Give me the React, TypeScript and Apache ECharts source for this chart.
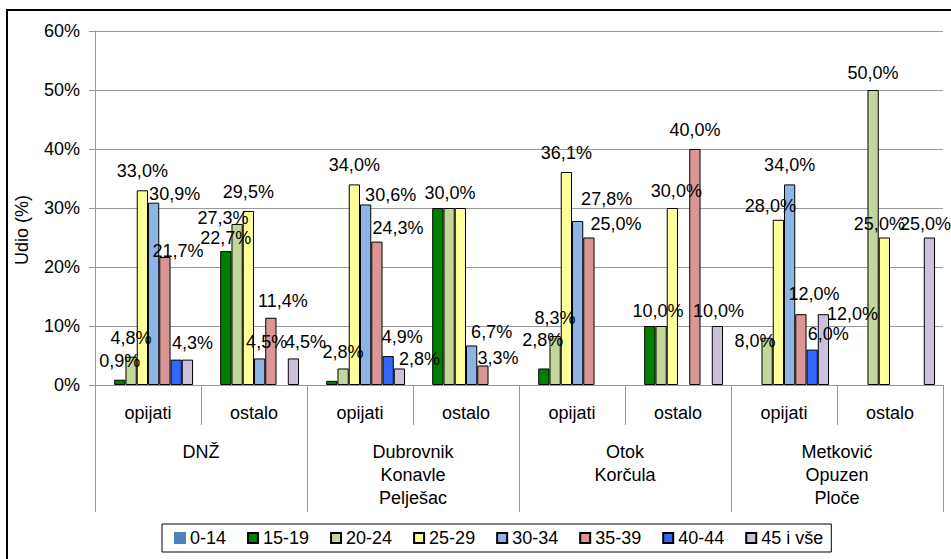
import React, { useEffect, useRef } from "react";
import * as echarts from "echarts";

// ---- data ----
const subCategories = ["opijati", "ostalo", "opijati", "ostalo", "opijati", "ostalo", "opijati", "ostalo"];
const regions = ["DNŽ", "Dubrovnik\nKonavle\nPelješac", "Otok\nKorčula", "Metković\nOpuzen\nPloče"];
const seriesNames = ["0-14", "15-19", "20-24", "25-29", "30-34", "35-39", "40-44", "45 i vše"];

const age0_14 = [null, null, null, null, null, null, null, null];
const age15_19 = [0.9, 22.7, 0.7, 30.0, 2.8, 10.0, null, null];
const age20_24 = [4.8, 27.3, 2.8, 30.0, 8.3, 10.0, 8.0, 50.0];
const age25_29 = [33.0, 29.5, 34.0, 30.0, 36.1, 30.0, 28.0, 25.0];
const age30_34 = [30.9, 4.5, 30.6, 6.7, 27.8, null, 34.0, null];
const age35_39 = [21.7, 11.4, 24.3, 3.3, 25.0, 40.0, 12.0, null];
const age40_44 = [4.3, null, 4.9, null, null, null, 6.0, null];
const age45plus = [4.3, 4.5, 2.8, null, null, 10.0, 12.0, 25.0];

const yMin = 0;
const yMax = 60;
const yInterval = 10;

// ---- style ----
const seriesValues = [age0_14, age15_19, age20_24, age25_29, age30_34, age35_39, age40_44, age45plus];
const colors = ["#4F81BD", "#008000", "#C3D69B", "#FFFF99", "#8EB4E3", "#D99694", "#3366FF", "#CCC0DA"];
const FONT = "'Liberation Sans', Arial, sans-serif";
const GRAY = "#999999";

// labels hidden where they coincide with another one (key: series-category)
const hiddenLabels = new Set(["1-2", "1-3", "3-3", "1-5", "6-0"]);
// label nudges [dx, dy] (key: series-category)
const labelNudge: Record<string, [number, number]> = {
  "4-0": [21, 10], "5-0": [13, 13], "7-0": [5, 2],
  "1-1": [0, 6], "2-1": [-14, 13], "4-1": [7, 3], "5-1": [12, 2], "7-1": [12, 3],
  "2-2": [0, 3], "4-2": [25, 10], "5-2": [21, 5], "6-2": [14, 0], "7-2": [20, 10],
  "2-3": [1, 4], "4-3": [20, 6], "5-3": [15, 11],
  "1-4": [-1, -9], "2-4": [0, 1], "4-4": [29, -3], "5-4": [27, 5],
  "2-5": [-3, 4], "3-5": [4, 2], "7-5": [1, 4],
  "2-6": [-12, 22], "3-6": [-8, 5], "5-6": [13, -1], "6-6": [16, 3], "7-6": [29, 19],
  "2-7": [0, 2], "3-7": [-5, 5], "7-7": [-4, 5],
};

const fmt = (v: number) => v.toFixed(1).replace(".", ",") + "%";

export default function App() {
  const ref = useRef<HTMLDivElement>(null);

  useEffect(() => {
    if (!ref.current) return;
    const chart = echarts.init(ref.current, undefined, { renderer: "svg" });

    const series = seriesNames.map((name, si) => ({
      name,
      type: "bar",
      xAxisIndex: 0,
      barGap: "0%",
      barCategoryGap: "15%",
      itemStyle: {
        color: colors[si],
        borderColor: si === 0 ? colors[si] : "#000000",
        borderWidth: 1,
      },
      label: {
        show: true,
        position: "top",
        distance: 10,
        color: "#000000",
        fontFamily: FONT,
        fontSize: 18,
        formatter: (p: any) => fmt(p.value as number),
      },
      data: seriesValues[si].map((v, ci) => {
        if (v === null) return null;
        const key = `${si}-${ci}`;
        const nudge = labelNudge[key] || [0, 0];
        return {
          value: v,
          label: { show: !hiddenLabels.has(key), offset: nudge },
        };
      }),
    }));

    chart.setOption({
      animation: false,
      backgroundColor: "#ffffff",
      textStyle: { fontFamily: FONT },
      grid: { left: 95, top: 31, right: 8, bottom: 174, containLabel: false },
      legend: {
        left: 162,
        top: 524,
        icon: "rect",
        itemWidth: 10,
        itemHeight: 10,
        itemGap: 21,
        padding: [5, 8, 5, 12],
        borderColor: "#000000",
        borderWidth: 1,
        textStyle: { fontFamily: FONT, fontSize: 18, color: "#000000" },
        data: seriesNames,
      },
      xAxis: [
        {
          type: "category",
          position: "bottom",
          data: subCategories,
          boundaryGap: true,
          axisLine: { show: true, lineStyle: { color: GRAY, width: 1 } },
          axisTick: { show: true, interval: 0, length: 40, lineStyle: { color: GRAY } },
          axisLabel: { interval: 0, margin: 19, fontSize: 18, color: "#000000", fontFamily: FONT },
          splitLine: { show: false },
        },
        {
          type: "category",
          position: "bottom",
          data: regions,
          boundaryGap: true,
          axisLine: { show: false },
          axisTick: { show: true, interval: 0, length: 127, lineStyle: { color: GRAY } },
          axisLabel: {
            interval: 0,
            margin: 55,
            lineHeight: 23,
            fontSize: 18,
            color: "#000000",
            fontFamily: FONT,
          },
          splitLine: { show: false },
        },
      ],
      yAxis: {
        type: "value",
        min: yMin,
        max: yMax,
        interval: yInterval,
        axisLine: { show: true, lineStyle: { color: GRAY } },
        axisTick: { show: true, length: 6, lineStyle: { color: GRAY } },
        axisLabel: {
          margin: 15,
          fontSize: 18,
          color: "#000000",
          fontFamily: FONT,
          formatter: "{value}%",
        },
        splitLine: { show: true, lineStyle: { color: GRAY, width: 1 } },
      },
      graphic: [
        {
          type: "rect",
          shape: { x: 7, y: 10, width: 1200, height: 1200 },
          style: { fill: "none", stroke: "#000000", lineWidth: 2 },
          silent: true,
          z: 100,
        },
        {
          type: "text",
          x: 22,
          y: 230,
          rotation: Math.PI / 2,
          style: {
            text: "Udio (%)",
            fontFamily: FONT,
            fontSize: 18,
            fill: "#000000",
            textAlign: "center",
            textVerticalAlign: "middle",
          },
        },
      ],
      series,
    });

    return () => chart.dispose();
  }, []);

  return (
    <div
      ref={ref}
      style={{ position: "absolute", left: 0, top: 0, width: 951, height: 559 }}
    />
  );
}
